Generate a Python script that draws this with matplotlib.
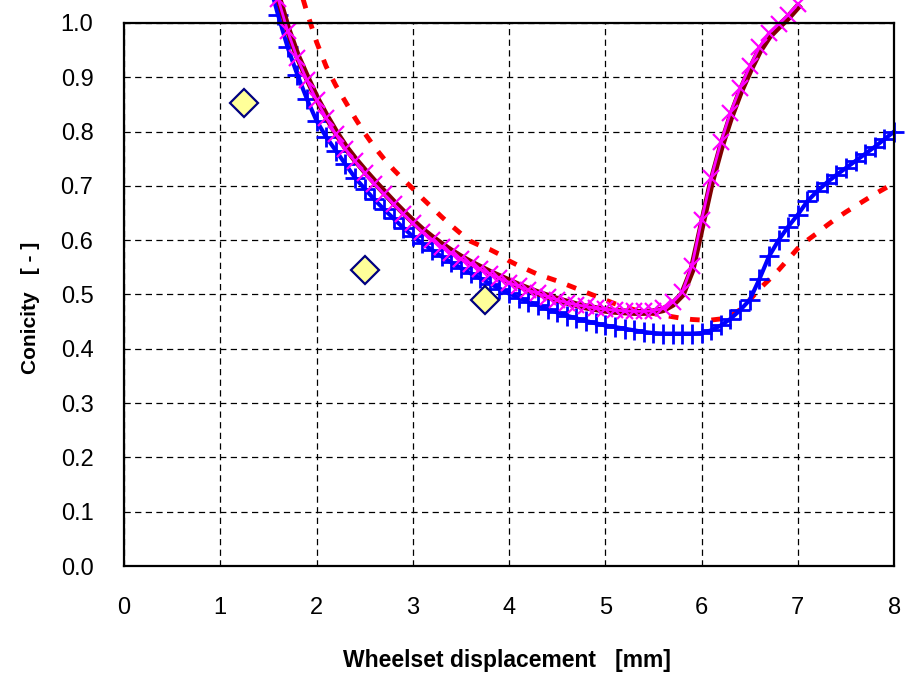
import matplotlib
matplotlib.use("Agg")
import matplotlib.pyplot as plt

plt.rcParams['font.family'] = ['Liberation Sans', 'DejaVu Sans']

# wheelset displacement grids [mm]
x_blue = [1.5, 1.6, 1.7, 1.8, 1.9, 2.0, 2.1, 2.2, 2.3, 2.4, 2.5, 2.6, 2.7, 2.8, 2.9,
          3.0, 3.1, 3.2, 3.3, 3.4, 3.5, 3.6, 3.7, 3.8, 3.9, 4.0, 4.1, 4.2, 4.3, 4.4,
          4.5, 4.6, 4.7, 4.8, 4.9, 5.0, 5.1, 5.2, 5.3, 5.4, 5.5, 5.6, 5.7, 5.8, 5.9,
          6.0, 6.1, 6.2, 6.3, 6.4, 6.5, 6.6, 6.7, 6.8, 6.9, 7.0, 7.1, 7.2, 7.3, 7.4,
          7.5, 7.6, 7.7, 7.8, 7.9, 8.0]
y_blue = [1.08, 1.015, 0.955, 0.905, 0.86, 0.82, 0.79, 0.765, 0.74, 0.715, 0.695, 0.675, 0.657, 0.64, 0.623,
          0.607, 0.594, 0.582, 0.57, 0.559, 0.549, 0.539, 0.530, 0.520, 0.511, 0.502, 0.494, 0.487, 0.480, 0.473,
          0.467, 0.461, 0.456, 0.451, 0.447, 0.443, 0.440, 0.437, 0.434, 0.431, 0.429, 0.428, 0.428, 0.428, 0.428,
          0.429, 0.434, 0.443, 0.455, 0.471, 0.49, 0.528, 0.57, 0.60, 0.625, 0.647, 0.672, 0.69, 0.706, 0.72,
          0.733, 0.746, 0.759, 0.772, 0.786, 0.80]

x_mag = [1.5, 1.6, 1.7, 1.8, 1.9, 2.0, 2.1, 2.2, 2.3, 2.4, 2.5, 2.6, 2.7, 2.8, 2.9,
         3.0, 3.1, 3.2, 3.3, 3.4, 3.5, 3.6, 3.7, 3.8, 3.9, 4.0, 4.1, 4.2, 4.3, 4.4,
         4.5, 4.6, 4.7, 4.8, 4.9, 5.0, 5.1, 5.2, 5.3, 5.4, 5.5, 5.6, 5.7, 5.8, 5.9,
         6.0, 6.1, 6.2, 6.3, 6.4, 6.5, 6.6, 6.7, 6.8, 6.9, 7.0]
y_mag = [1.11, 1.045, 0.985, 0.935, 0.895, 0.858, 0.825, 0.795, 0.768, 0.745, 0.724, 0.704, 0.685, 0.666, 0.648,
         0.631, 0.615, 0.601, 0.588, 0.576, 0.566, 0.556, 0.547, 0.538, 0.530, 0.522, 0.515, 0.508, 0.502, 0.496,
         0.490, 0.485, 0.481, 0.478, 0.475, 0.473, 0.471, 0.470, 0.469, 0.469, 0.470, 0.475, 0.486, 0.505, 0.553,
         0.637, 0.715, 0.78, 0.835, 0.88, 0.92, 0.955, 0.982, 0.998, 1.015, 1.035]
y_darkred = [1.12, 1.05, 0.99, 0.94, 0.90, 0.862, 0.829, 0.799, 0.772, 0.749, 0.728, 0.708, 0.689, 0.670, 0.652,
             0.635, 0.619, 0.605, 0.592, 0.580, 0.569, 0.559, 0.550, 0.541, 0.533, 0.525, 0.517, 0.510, 0.503, 0.497,
             0.491, 0.486, 0.481, 0.477, 0.474, 0.471, 0.469, 0.468, 0.467, 0.467, 0.468, 0.472, 0.482, 0.500, 0.545,
             0.625, 0.705, 0.77, 0.825, 0.872, 0.912, 0.948, 0.975, 0.993, 1.01, 1.03]

x_red = [1.8, 1.9, 2.0, 2.1, 2.2, 2.3, 2.4, 2.5, 2.6, 2.7, 2.8, 2.9,
         3.0, 3.1, 3.2, 3.3, 3.4, 3.5, 3.6, 3.7, 3.8, 3.9, 4.0, 4.1, 4.2, 4.3, 4.4,
         4.5, 4.6, 4.7, 4.8, 4.9, 5.0, 5.1, 5.2, 5.3, 5.4, 5.5, 5.6, 5.7, 5.8, 5.9,
         6.0, 6.1, 6.2, 6.3, 6.4, 6.5, 6.6, 6.7, 6.8, 6.9, 7.0, 7.1, 7.2, 7.3, 7.4,
         7.5, 7.6, 7.7, 7.8, 7.9, 7.95]
y_red = [1.08, 1.02, 0.965, 0.92, 0.885, 0.855, 0.825, 0.797, 0.772, 0.75, 0.73, 0.712,
         0.695, 0.677, 0.66, 0.643, 0.627, 0.612, 0.598, 0.59, 0.583, 0.574, 0.562, 0.553, 0.545, 0.537, 0.531,
         0.525, 0.518, 0.511, 0.504, 0.497, 0.49, 0.483, 0.477, 0.472, 0.468, 0.465, 0.462, 0.459, 0.456, 0.454,
         0.453, 0.453, 0.455, 0.46, 0.472, 0.49, 0.51, 0.527, 0.545, 0.565, 0.585, 0.60, 0.613, 0.627, 0.64,
         0.652, 0.663, 0.674, 0.685, 0.695, 0.70]

x_meas = [1.25, 2.5, 3.75]
y_meas = [0.853, 0.545, 0.49]

fig = plt.figure(figsize=(9.14, 6.76), dpi=100)
ax = fig.add_axes([0.1357, 0.1627, 0.8425, 0.8033])

ax.plot(x_red, y_red, color='#FF0000', lw=3.5, dashes=(2, 2.4), clip_on=False, zorder=3)
ax.plot(x_blue, y_blue, color='#0000FF', lw=3, marker='+', ms=14, mew=2, clip_on=False, zorder=4)
ax.plot(x_mag, y_darkred, color='#800000', lw=5, clip_on=False, zorder=5)
ax.plot(x_mag, y_mag, color='#FF00FF', lw=2, marker='x', ms=11, mew=1.6, clip_on=False, zorder=6)
ax.plot(x_meas, y_meas, ls='none', marker='D', ms=14, mfc='#FFFF99', mec='#000080', mew=1.6, zorder=7)

ax.set_xlim(0, 8)
ax.set_ylim(0, 1.0)
ax.set_xticks(range(0, 9))
ax.set_yticks([i / 10 for i in range(11)])
ax.set_yticklabels(['%.1f' % (i / 10) for i in range(11)])
ax.tick_params(axis='both', length=0, labelsize=17)
ax.tick_params(axis='x', pad=22)
ax.tick_params(axis='y', pad=22)
ax.grid(True, color='black', lw=0.9, ls=(0, (5, 3.5)))
ax.set_axisbelow(True)
for s in ax.spines.values():
    s.set_linewidth(1.6)
    s.set_zorder(8)

fig.text(507 / 914, 1 - 661 / 676, 'Wheelset displacement   [mm]', fontsize=16.5,
         fontweight='bold', ha='center', va='center')
fig.text(31 / 914, 1 - 308 / 676, 'Conicity   [ - ]', fontsize=15,
         fontweight='bold', ha='center', va='center', rotation=90)

fig.savefig('out.png', dpi=100)
